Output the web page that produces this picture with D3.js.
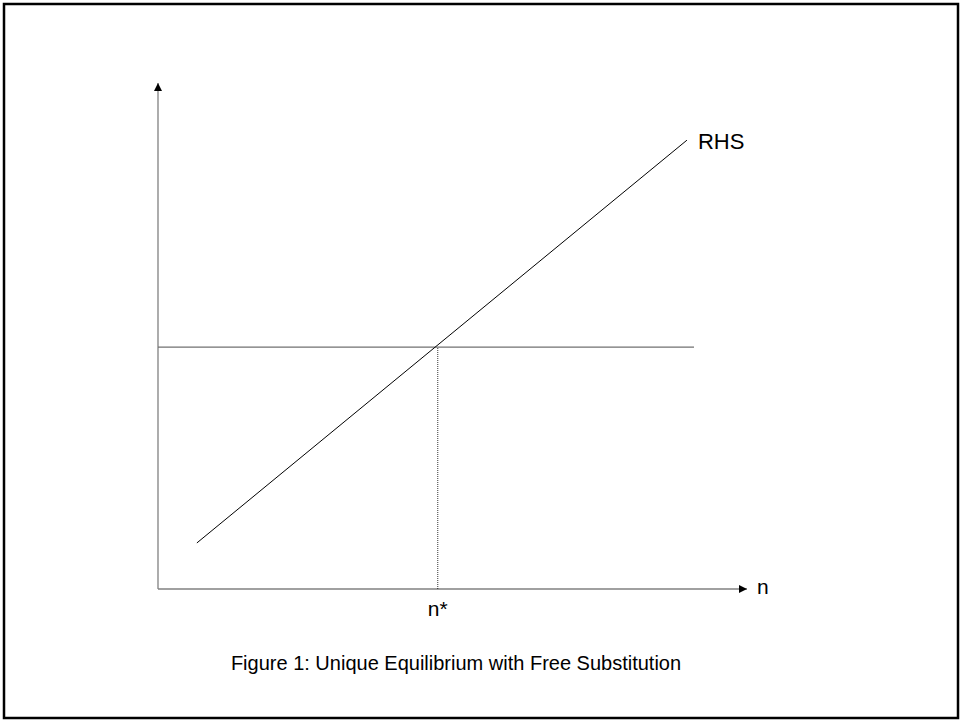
<!DOCTYPE html>
<html>
<head>
<meta charset="utf-8">
<script src="https://cdn.jsdelivr.net/npm/d3@7"></script>
<style>
  body { margin: 0; background: #fff; }
  text { font-family: "Liberation Sans", Arial, sans-serif; fill: #000; }
</style>
</head>
<body>
<script>
// abstract units, axes run 0..100
let rhsLine = [{x: 6.6, y: 9.1}, {x: 89.8, y: 88.7}];
let flatLine = [{x: 0, y: 47.8}, {x: 91.0, y: 47.8}];
let nStar = 47.5;
let axisMax = 100;
let labels = {x: 'n', curve: 'RHS', eq: 'n*'};
let caption = 'Figure 1: Unique Equilibrium with Free Substitution';

let width = 961,
    height = 721;

let svg = d3.select('body')
  .append('svg')
    .attr('width', width)
    .attr('height', height);

svg.append('rect')
  .attr('x', 4)
  .attr('y', 4)
  .attr('width', 954)
  .attr('height', 714)
  .attr('fill', 'white')
  .attr('stroke', '#000')
  .attr('stroke-width', 2.5);

let xScale = d3.scaleLinear().domain([0, axisMax]).range([158, 747]);
let yScale = d3.scaleLinear().domain([0, axisMax]).range([589, 83]);

let defs = svg.append('defs');
defs.append('marker')
  .attr('id', 'arrow')
  .attr('viewBox', '0 0 10 10')
  .attr('refX', 10)
  .attr('refY', 5)
  .attr('markerWidth', 8)
  .attr('markerHeight', 8)
  .attr('markerUnits', 'userSpaceOnUse')
  .attr('orient', 'auto')
  .append('path')
    .attr('d', 'M0,0 L10,5 L0,10 z')
    .attr('fill', '#000');

let line = d3.line().x(d => xScale(d.x)).y(d => yScale(d.y));

// axes
svg.append('path')
  .attr('d', line([{x: 0, y: 0}, {x: 0, y: axisMax}]))
  .attr('stroke', '#808080')
  .attr('stroke-width', 1.3)
  .attr('marker-end', 'url(#arrow)');

svg.append('path')
  .attr('d', line([{x: 0, y: 0}, {x: axisMax, y: 0}]))
  .attr('stroke', '#808080')
  .attr('stroke-width', 1.3)
  .attr('marker-end', 'url(#arrow)');

// horizontal line
svg.append('path')
  .attr('d', line(flatLine))
  .attr('stroke', '#707070')
  .attr('stroke-width', 1.2)
  .attr('fill', 'none');

// dotted drop line at equilibrium
svg.append('path')
  .attr('d', line([{x: nStar, y: 0}, {x: nStar, y: flatLine[0].y}]))
  .attr('stroke', '#000')
  .attr('stroke-width', 0.8)
  .attr('stroke-dasharray', '1,1')
  .attr('fill', 'none');

// RHS line
svg.append('path')
  .attr('d', line(rhsLine))
  .attr('stroke', '#000')
  .attr('stroke-width', 1)
  .attr('fill', 'none');

svg.append('text')
  .attr('x', xScale(rhsLine[1].x) + 11)
  .attr('y', yScale(rhsLine[1].y) + 9)
  .style('font-size', '22px')
  .text(labels.curve);

svg.append('text')
  .attr('x', xScale(axisMax) + 10)
  .attr('y', yScale(0) + 5)
  .style('font-size', '21px')
  .text(labels.x);

svg.append('text')
  .attr('x', xScale(nStar) - 10)
  .attr('y', yScale(0) + 27)
  .style('font-size', '21px')
  .text(labels.eq);

svg.append('text')
  .attr('x', 456)
  .attr('y', 670)
  .attr('text-anchor', 'middle')
  .style('font-size', '20px')
  .text(caption);
</script>
</body>
</html>
